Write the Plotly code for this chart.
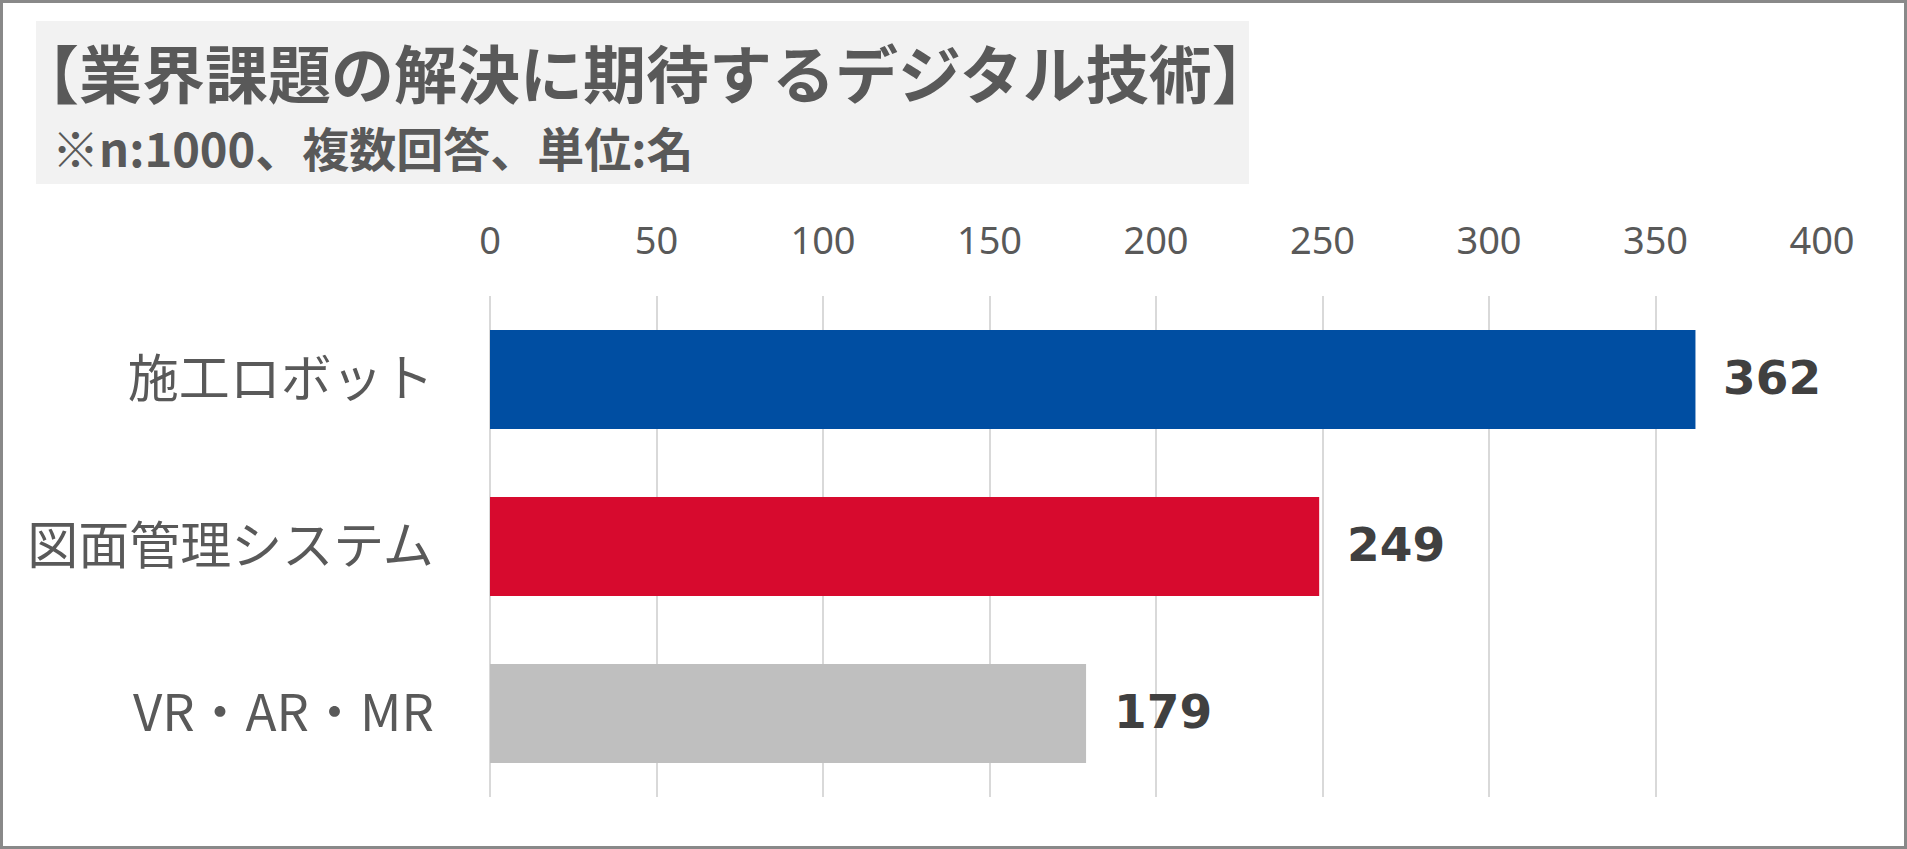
import plotly.graph_objects as go

# ---- data ----
categories = ["施工ロボット", "図面管理システム", "VR・AR・MR"]
values = [362, 249, 179]
bar_colors = ["#004EA2", "#D70A2E", "#BFBFBF"]
x_ticks = [0, 50, 100, 150, 200, 250, 300, 350, 400]
title_text = "【業界課題の解決に期待するデジタル技術】"
subtitle_text = "※n:1000、複数回答、単位:名"

W, H = 1907, 849
L, R, T, B = 490, 85, 296, 52
PW, PH = W - L - R, H - T - B


def px(x):
    return (x - L) / PW


def py(y):
    return (H - B - y) / PH


fig = go.Figure()
fig.add_trace(go.Bar(
    y=categories, x=values, orientation="h",
    marker=dict(color=bar_colors, line=dict(width=0)),
    hoverinfo="skip", showlegend=False,
))

for c, v in zip(categories, values):
    fig.add_annotation(
        x=v, y=c, xref="x", yref="y", text=str(v), showarrow=False,
        xanchor="left", yanchor="middle", xshift=26, yshift=2,
        font=dict(family="DejaVu Sans", size=47, color="#404040", weight="bold"),
    )

# title box
fig.add_shape(type="rect", xref="paper", yref="paper",
              x0=px(36), x1=px(1249), y0=py(184), y1=py(21),
              fillcolor="#F2F2F2", line=dict(width=0), layer="below")
fig.add_annotation(x=px(14), y=py(71), xref="paper", yref="paper",
                   text=title_text, showarrow=False, xanchor="left", yanchor="middle",
                   font=dict(family="Noto Sans CJK JP", size=63, color="#595959", weight="bold"))
fig.add_annotation(x=px(50), y=py(146), xref="paper", yref="paper",
                   text=subtitle_text, showarrow=False, xanchor="left", yanchor="middle",
                   font=dict(family="Noto Sans CJK JP", size=47, color="#595959", weight="bold"))
# outer border
fig.add_shape(type="rect", xref="paper", yref="paper",
              x0=px(1.5), x1=px(W - 1.5), y0=py(H - 1.5), y1=py(1.5),
              line=dict(color="#898989", width=3), fillcolor="rgba(0,0,0,0)", layer="above")

fig.update_layout(
    width=W, height=H,
    margin=dict(l=L, r=R, t=T, b=B, pad=0),
    paper_bgcolor="white", plot_bgcolor="white",
    bargap=0.406,
    xaxis=dict(
        range=[0, 400], side="top", tickvals=x_ticks,
        showgrid=True, gridcolor="#D9D9D9", gridwidth=2,
        zeroline=True, zerolinecolor="#D9D9D9", zerolinewidth=2,
        showline=False,
        ticks="outside", ticklen=26, tickcolor="rgba(0,0,0,0)",
        tickfont=dict(family="Noto Sans", size=38, color="#595959"),
        fixedrange=True,
    ),
    yaxis=dict(
        categoryorder="array", categoryarray=categories, autorange="reversed",
        showgrid=False, zeroline=False, showline=False,
        ticks="outside", ticklen=45, tickcolor="rgba(0,0,0,0)",
        tickfont=dict(family="Noto Sans CJK JP", size=51, color="#595959"),
        fixedrange=True,
    ),
)

fig.write_html("out.html")
